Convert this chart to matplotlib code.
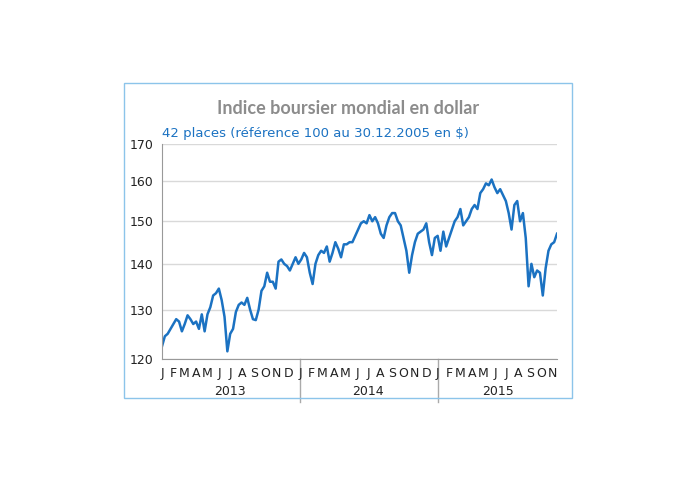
import matplotlib
matplotlib.use("Agg")
import matplotlib.pyplot as plt
import matplotlib.dates as mdates
import matplotlib.transforms as mtrans
from matplotlib.ticker import FixedLocator, NullFormatter, NullLocator
import pandas as pd
import numpy as np

title = "Indice boursier mondial en dollar"
subtitle = "42 places (référence 100 au 30.12.2005 en $)"
start_date, end_date = "2013-01-01", "2015-11-12"
values = [
    # 2013
    122.5, 124.5, 125, 126,
    127, 128, 127.5, 125.5,
    127, 128.8, 128, 127,
    127.5, 126, 129, 125.5,
    129, 130.5, 133, 133.5, 134.5,
    132, 128.5, 121.5, 125,
    126, 129.5, 131, 131.5,
    131, 132.5, 130, 128,
    127.8, 130, 134, 135,
    138, 136, 136, 134.5,
    140.5, 141, 140, 139.5,
    138.5, 140, 141.5, 140,
    # 2014
    141, 142.5, 141.5, 138,
    135.5, 140, 142, 143,
    142.5, 144, 140.5, 142.5,
    145, 143.5, 141.5, 144.5,
    144.5, 145, 145, 146.5,
    148, 149.5, 150, 149.5,
    151.5, 150, 151, 149.5,
    147, 146, 149, 151,
    152, 152, 150, 149,
    146, 143, 138, 142,
    145, 147, 147.5, 148,
    149.5, 145, 142, 146,
    # 2015
    146.5, 143, 147.5, 144,
    146, 148, 150, 151,
    153, 149, 150, 151,
    153, 154, 153, 157,
    158, 159.5, 159, 160.5,
    158.5, 157, 158, 156.5,
    155, 152, 148, 154,
    155, 150, 152, 146, 135,
    140, 137, 138.5, 138,
    133, 139, 143, 144.5,
    145, 147,
]
yticks = [120, 130, 140, 150, 160, 170]
month_letters = ["J", "F", "M", "A", "M", "J", "J", "A", "S", "O", "N", "D"]
years = [2013, 2014, 2015]

dates = pd.date_range(start_date, end_date, periods=len(values))
blue = "#1b72c2"

fig = plt.figure(figsize=(6.95, 4.83), dpi=100)
fig.patches.append(plt.Rectangle((124/695, 1-398/483), 448/695, 315/483,
                   transform=fig.transFigure, fill=False, ec="#8cc4ea", lw=1))
ax = fig.add_axes([162/695, 1-359/483, 395/695, 215/483])
ax.plot(dates, values, color=blue, lw=1.8)
ax.set_yscale("log")
ax.set_ylim(120, 170)
ax.yaxis.set_major_locator(FixedLocator(yticks))
ax.yaxis.set_minor_locator(NullLocator())
ax.set_yticklabels([str(t) for t in yticks], fontsize=9, color="#222222")
ax.yaxis.set_minor_formatter(NullFormatter())
ax.tick_params(axis="y", length=0, pad=6)
ax.grid(axis="y", color="#d9d9d9", lw=1)
ax.set_axisbelow(True)
for s in ["top", "right"]:
    ax.spines[s].set_visible(False)
ax.spines["left"].set_color("#999999")
ax.spines["bottom"].set_color("#999999")
ax.set_xlim(pd.Timestamp(start_date), pd.Timestamp(end_date))
ax.set_xticks([])

trans = mtrans.blended_transform_factory(ax.transData, ax.transAxes)
for y in years:
    for m in range(12):
        d = pd.Timestamp(year=y, month=m+1, day=1)
        if d > pd.Timestamp(end_date):
            break
        ax.text(mdates.date2num(d), -0.035, month_letters[m], transform=trans,
                ha="center", va="top", fontsize=9, color="#222222")
    mid = pd.Timestamp(year=y, month=7, day=1)
    if y == 2015:
        mid = pd.Timestamp(year=2015, month=6, day=10)
    ax.text(mdates.date2num(mid), -0.12, str(y), transform=trans,
            ha="center", va="top", fontsize=9, color="#222222")
    if y > years[0]:
        x = mdates.date2num(pd.Timestamp(year=y, month=1, day=1))
        ax.plot([x, x], [0, -0.2], transform=trans, color="#aaaaaa", lw=1, clip_on=False)

fig.text(348/695, 1-108/483, title, ha="center", va="center", fontsize=13,
         fontweight="bold", family="Lato", color="#8c8c8c")
fig.text(162/695, 1-133/483, subtitle, ha="left", va="center", fontsize=9.5, color=blue)
fig.savefig("out.png", dpi=100)
